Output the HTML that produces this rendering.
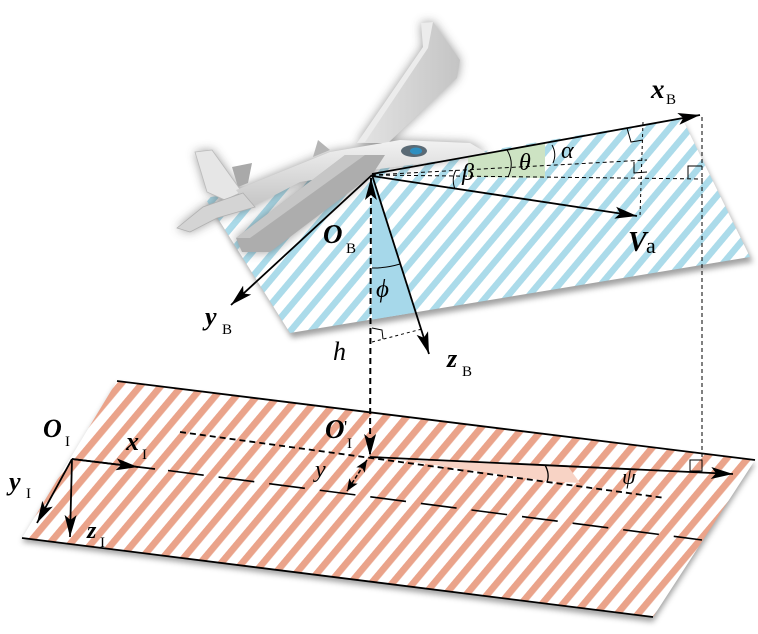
<!DOCTYPE html>
<html><head><meta charset="utf-8"><style>
html,body{margin:0;padding:0;background:#fff;}
svg{display:block;}
</style></head><body>
<svg width="758" height="634" viewBox="0 0 758 634" xmlns="http://www.w3.org/2000/svg">
<defs>
<pattern id="pb" width="16" height="16" patternUnits="userSpaceOnUse" patternTransform="rotate(40)">
<rect width="16" height="16" fill="#fff"/><rect width="6.5" height="16" fill="#abdbea"/></pattern>
<pattern id="po" width="16" height="16" patternUnits="userSpaceOnUse" patternTransform="rotate(40)">
<rect width="16" height="16" fill="#fff"/><rect width="6.8" height="16" fill="#eaa38a"/></pattern>
<filter id="b3" x="-20%" y="-20%" width="140%" height="140%"><feGaussianBlur stdDeviation="3"/></filter>
<filter id="b5" x="-30%" y="-30%" width="160%" height="160%"><feGaussianBlur stdDeviation="5"/></filter>
<marker id="ah" markerUnits="userSpaceOnUse" markerWidth="24" markerHeight="14" refX="22" refY="7" orient="auto" viewBox="0 0 24 14"><path d="M0,1 L22,7 L0,13 L5,7 z" fill="#000"/></marker>
<marker id="ahs" markerUnits="userSpaceOnUse" markerWidth="24" markerHeight="14" refX="22" refY="7" orient="auto-start-reverse" viewBox="0 0 24 14"><path d="M0,1 L22,7 L0,13 L5,7 z" fill="#000"/></marker>
<marker id="sm" markerUnits="userSpaceOnUse" markerWidth="13" markerHeight="10" refX="12" refY="5" orient="auto-start-reverse" viewBox="0 0 13 10"><path d="M0,0 L12,5 L0,10 L3,5 z" fill="#000"/></marker>
<linearGradient id="gw" x1="0" y1="0" x2="1" y2="0"><stop offset="0" stop-color="#e4e4e4"/><stop offset="1" stop-color="#c4c4c4"/></linearGradient>
<linearGradient id="gf" x1="0" y1="0" x2="0" y2="1"><stop offset="0" stop-color="#f2f2f2"/><stop offset="1" stop-color="#c4c4c4"/></linearGradient>
</defs>
<rect width="758" height="634" fill="#fff"/>

<!-- ground plane -->
<polygon points="22,542 653,622 755,464 117,385" fill="#555" opacity="0.55" filter="url(#b3)"/>
<polygon points="117,381 755,460 653,617 22,538" fill="url(#po)"/>
<line x1="117" y1="381" x2="755" y2="460" stroke="#000" stroke-width="1.8"/>
<line x1="22" y1="538" x2="653" y2="617" stroke="#000" stroke-width="1.8"/>

<!-- body plane -->
<polygon points="207,203 684,124 753,262 292,338" fill="#555" opacity="0.55" filter="url(#b3)"/>
<polygon points="205,198 682,118 750,257 290,333" fill="url(#pb)"/>

<!-- aircraft halo -->
<g filter="url(#b5)" opacity="0.55" fill="#444">
<polygon points="421,23 433,22 460,60 457,78 388,143 357,143 423,47"/>
<polygon points="236,190 330,152 400,140 470,143 487,153 440,161 372,170 300,182 250,208"/>
<polygon points="345,155 385,155 372,175 282,243 270,252 242,252 236,238"/>
<polygon points="195,152 212,150 242,192 225,200 207,192"/>
<polygon points="177,228 203,207 243,193 255,207 217,218 190,232"/>
</g>
<!-- aircraft -->
<g>
<polygon points="421,23 433,22 460,60 457,78 388,143 357,143 423,47" fill="url(#gw)"/>
<polygon points="421,23 433,22 428,48 365,142 357,143 423,47" fill="#ececec"/>
<polygon points="232,167 252,163 248,183 238,187" fill="#a9a9a9"/>
<polygon points="195,152 212,150 242,192 225,200 207,192" fill="#e6e6e6" stroke="#bbb" stroke-width="0.8"/>
<polygon points="236,190 330,152 400,140 470,143 487,153 440,161 372,170 300,182 250,208" fill="url(#gf)"/>
<polygon points="313,157 318,140 330,150" fill="#b5b5b5"/>
<polygon points="177,228 203,207 243,193 255,207 217,218 190,232" fill="#d4d4d4" stroke="#b0b0b0" stroke-width="0.8"/>
<polygon points="345,155 385,155 372,175 282,243 270,252 242,252 236,238" fill="#adadad"/>
<polygon points="345,155 365,155 250,238 236,238" fill="#c6c6c6"/>
<ellipse cx="414" cy="151" rx="13" ry="6" fill="#5a6a75"/>
<ellipse cx="416" cy="151" rx="6" ry="3.5" fill="#2f8fc0"/>
</g>

<!-- shaded angle regions -->
<polygon points="468,157 545,143 545,178 468,177" fill="#cde3c3"/>
<polygon points="372,176 372,319.6 415.7,312.4" fill="#a6d8ea"/>
<polygon points="400,460 567,465 580,483 545,481" fill="#f8d3c5"/>

<!-- dashed helper lines (upper) -->
<g stroke="#000" fill="none" stroke-width="1">
<line x1="372" y1="175" x2="647" y2="160" stroke-dasharray="4 3"/>
<line x1="372" y1="175" x2="703" y2="179" stroke-dasharray="4 3"/>
<line x1="643" y1="122" x2="640" y2="216" stroke-dasharray="3 3"/>
<line x1="702" y1="117" x2="702" y2="471" stroke-dasharray="4 3"/>
<line x1="372" y1="342" x2="422" y2="329" stroke-dasharray="3 3"/>
<path d="M372,328 L382,330 L383,339"/>
<path d="M627,128 L631,142 L643,140"/>
<path d="M634,162 L634,173 L647,172"/>
<path d="M688,178 L688,166 L702,166"/>
<rect x="690" y="460" width="12" height="11"/>
<path d="M552,145 Q557,154 553,163"/>
<path d="M507,150 Q515,163 508,177"/>
<path d="M456,170 Q451,179 455,189"/>
<path d="M372,268 A93,93 0 0 0 400,264"/>
<path d="M545,465 Q550,474 547,482" stroke-width="1.3"/>
</g>

<!-- body axes -->
<g stroke="#000" stroke-width="1.8" fill="none">
<line x1="372" y1="174" x2="700" y2="115" marker-end="url(#ah)"/>
<line x1="372" y1="176" x2="637" y2="216" marker-end="url(#ah)"/>
<line x1="372" y1="175" x2="231" y2="305" marker-end="url(#ah)"/>
<line x1="372" y1="175" x2="429" y2="354" marker-end="url(#ah)"/>
<line x1="371" y1="178" x2="370" y2="456" stroke-width="2" stroke-dasharray="6 4" marker-start="url(#ahs)" marker-end="url(#ahs)"/>
</g>

<!-- ground axes -->
<g stroke="#000" stroke-width="1.8" fill="none">
<line x1="180" y1="432" x2="665" y2="498" stroke-dasharray="6 4"/>
<line x1="370" y1="457" x2="733" y2="474" marker-end="url(#ah)"/>
<line x1="168" y1="470.5" x2="702" y2="540" stroke-width="1.6" stroke-dasharray="36 15"/>
<line x1="72" y1="459" x2="155" y2="469"/>
<line x1="72" y1="459" x2="138" y2="467" marker-end="url(#ah)"/>
<line x1="72" y1="459" x2="37" y2="523" marker-end="url(#ah)"/>
<line x1="72" y1="459" x2="70" y2="537" marker-end="url(#ah)"/>
<line x1="367" y1="460" x2="347" y2="491" stroke-width="1.5" stroke-dasharray="4 2" marker-start="url(#sm)" marker-end="url(#sm)"/>
</g>

<!-- labels -->
<g font-family="Liberation Serif, DejaVu Serif, serif" style="font-family:'Liberation Serif','DejaVu Serif',serif" fill="#000">
<text x="651" y="98" font-size="27" font-weight="bold" font-style="italic">x</text><text x="666" y="104" font-size="15">B</text>
<text x="628" y="251" font-size="28" font-weight="bold" font-style="italic">V</text><text x="646" y="253" font-size="22">a</text>
<text x="561" y="158" font-size="24" font-style="italic">α</text>
<text x="519" y="170" font-size="24" font-style="italic">θ</text>
<text x="462" y="180" font-size="24" font-style="italic">β</text>
<text x="323" y="243" font-size="27" font-weight="bold" font-style="italic">O</text><text x="346" y="253" font-size="15">B</text>
<text x="376" y="297" font-size="25" font-style="italic">ϕ</text>
<text x="205" y="325" font-size="26" font-weight="bold" font-style="italic">y</text><text x="222" y="334" font-size="15">B</text>
<text x="333" y="360" font-size="26" font-style="italic">h</text>
<text x="447" y="367" font-size="26" font-weight="bold" font-style="italic">z</text><text x="462" y="376" font-size="15">B</text>
<text x="43" y="437" font-size="26" font-weight="bold" font-style="italic">O</text><text x="65" y="446" font-size="15">I</text>
<text x="126" y="450" font-size="26" font-weight="bold" font-style="italic">x</text><text x="142" y="459" font-size="15">I</text>
<text x="9" y="490" font-size="26" font-weight="bold" font-style="italic">y</text><text x="26" y="498" font-size="15">I</text>
<text x="87" y="538" font-size="24" font-weight="bold" font-style="italic">z</text><text x="100" y="547" font-size="15">I</text>
<text x="325" y="438" font-size="27" font-weight="bold" font-style="italic">O</text><text x="344" y="433" font-size="18">'</text><text x="347" y="448" font-size="15">I</text>
<text x="315" y="477" font-size="24" font-style="italic">y</text>
<text x="622" y="484" font-size="22" font-style="italic">ψ</text>
</g>
</svg>
</body></html>
